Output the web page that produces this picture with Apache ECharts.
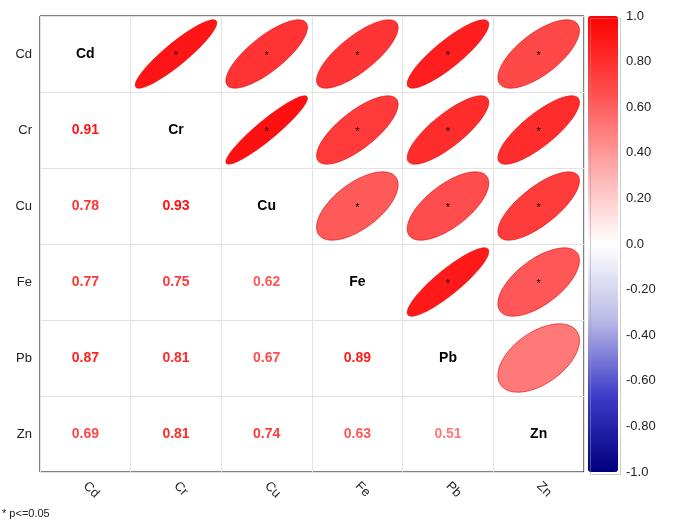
<!DOCTYPE html>
<html><head><meta charset="utf-8">
<script src="https://cdn.jsdelivr.net/npm/echarts@6/dist/echarts.min.js"></script>
<style>html,body{margin:0;padding:0;background:#fff}#main{width:680px;height:521px}</style>
</head><body><div id="main"></div>
<script>
var vars = ['Cd', 'Cr', 'Cu', 'Fe', 'Pb', 'Zn'];
// lower triangle correlations [row, col, r]
var corrs = [
    [1, 0, 0.91],
    [2, 0, 0.78], [2, 1, 0.93],
    [3, 0, 0.77], [3, 1, 0.75], [3, 2, 0.62],
    [4, 0, 0.87], [4, 1, 0.81], [4, 2, 0.67], [4, 3, 0.89],
    [5, 0, 0.69], [5, 1, 0.81], [5, 2, 0.74], [5, 3, 0.63], [5, 4, 0.51]
];
// significance flags (p<=0.05), same order as corrs
var signif = [1, 1, 1, 1, 1, 1, 1, 1, 1, 1, 1, 1, 1, 1, 0];
var barTicks = [1.0, 0.8, 0.6, 0.4, 0.2, 0, -0.2, -0.4, -0.6, -0.8, -1.0];

var lowerData = corrs.map(function (c) { return [c[1], c[0], c[2]]; });
var upperData = corrs.map(function (c, i) { return [c[0], c[1], c[2], signif[i]]; });
var diagData = vars.map(function (v, i) { return [i, i, v]; });

var myChart = echarts.init(document.getElementById('main'));
myChart.setOption({
    animation: false,
    grid: [
        {left: 40, top: 16, width: 544, height: 456, show: true, borderColor: '#000', borderWidth: 1},
        {left: 588, top: 16, width: 30, height: 456}
    ],
    xAxis: [{
        type: 'category', data: vars, gridIndex: 0,
        axisLine: {show: false}, axisTick: {show: false},
        axisLabel: {rotate: -45, fontSize: 13, color: '#222', fontFamily: 'Arial', margin: 12},
        splitLine: {show: true, lineStyle: {color: '#e3e3e3'}}
    }, {
        type: 'value', gridIndex: 1, show: false
    }],
    yAxis: [{
        type: 'category', data: vars, gridIndex: 0, inverse: true,
        axisLine: {show: false}, axisTick: {show: false},
        axisLabel: {fontSize: 13, color: '#222', fontFamily: 'Arial'},
        splitLine: {show: true, lineStyle: {color: '#e3e3e3'}}
    }, {
        type: 'value', gridIndex: 1, min: -1, max: 1, interval: 0.2, position: 'right',
        axisLine: {show: false}, axisTick: {show: false}, splitLine: {show: false},
        axisLabel: {fontSize: 13, color: '#222', fontFamily: 'Arial', margin: 8,
            formatter: function (v) {
                if (Math.abs(v - 1) < 1e-6) return '1.0';
                if (Math.abs(v + 1) < 1e-6) return '-1.0';
                if (Math.abs(v) < 1e-6) return '0.0';
                return v.toFixed(2);
            }}
    }],
    visualMap: {
        type: 'continuous', min: -1, max: 1, dimension: 2, seriesIndex: [0, 1],
        left: 588, top: 16, padding: 0, itemWidth: 30, itemHeight: 456, calculable: false,
        text: null, showLabel: false,
        inRange: {color: ['#00007F', '#3B3BC8', '#BBBBE6', '#FFFFFF', '#FFAAAA', '#FF4D4D', '#FF0000']},
        textStyle: {color: 'transparent'}
    },
    graphic: [{
        type: 'rect', left: 588, top: 16, shape: {width: 30, height: 456},
        style: {fill: 'none', stroke: '#999', lineWidth: 0.5}, z: 10
    }, {
        type: 'text', left: 2, top: 508,
        style: {text: '* p<=0.05', fontSize: 11, fill: '#222', fontFamily: 'Arial'}
    }],
    series: [{
        type: 'custom', xAxisIndex: 0, yAxisIndex: 0, data: upperData,
        renderItem: function (params, api) {
            var c = api.coord([api.value(0), api.value(1)]);
            var s = api.size([1, 1]);
            var r = api.value(2);
            var d = Math.acos(r);
            var pts = [];
            for (var k = 0; k < 72; k++) {
                var t = k / 72 * 2 * Math.PI;
                var ex = Math.cos(t + d / 2);
                var ey = Math.cos(t - d / 2);
                pts.push([c[0] + ex * s[0] * 0.45, c[1] - ey * s[1] * 0.45]);
            }
            var children = [{
                type: 'polygon', shape: {points: pts},
                style: {fill: api.visual('color'), stroke: '#dd0000', lineWidth: 0.6}
            }];
            if (api.value(3)) {
                children.push({type: 'text', style: {text: '*', x: c[0], y: c[1] + 2, align: 'center',
                    verticalAlign: 'middle', fontSize: 11, fill: '#000'}});
            }
            return {type: 'group', children: children};
        }
    }, {
        type: 'custom', xAxisIndex: 0, yAxisIndex: 0, data: lowerData,
        renderItem: function (params, api) {
            var c = api.coord([api.value(0), api.value(1)]);
            return {type: 'text', style: {text: api.value(2).toFixed(2), x: c[0], y: c[1],
                align: 'center', verticalAlign: 'middle', fontSize: 14, fontWeight: 'bold',
                fontFamily: 'Arial', fill: api.visual('color')}};
        }
    }, {
        type: 'custom', xAxisIndex: 0, yAxisIndex: 0, data: diagData,
        encode: {x: 0, y: 1},
        renderItem: function (params, api) {
            var c = api.coord([api.value(0), api.value(1)]);
            return {type: 'text', style: {text: vars[params.dataIndex], x: c[0], y: c[1],
                align: 'center', verticalAlign: 'middle', fontSize: 14, fontWeight: 'bold',
                fontFamily: 'Arial', fill: '#000'}};
        }
    }, {
        type: 'scatter', xAxisIndex: 1, yAxisIndex: 1, data: barTicks.map(function (v) { return [0, v]; }),
        symbolSize: 0, silent: true
    }]
});
</script></body></html>
